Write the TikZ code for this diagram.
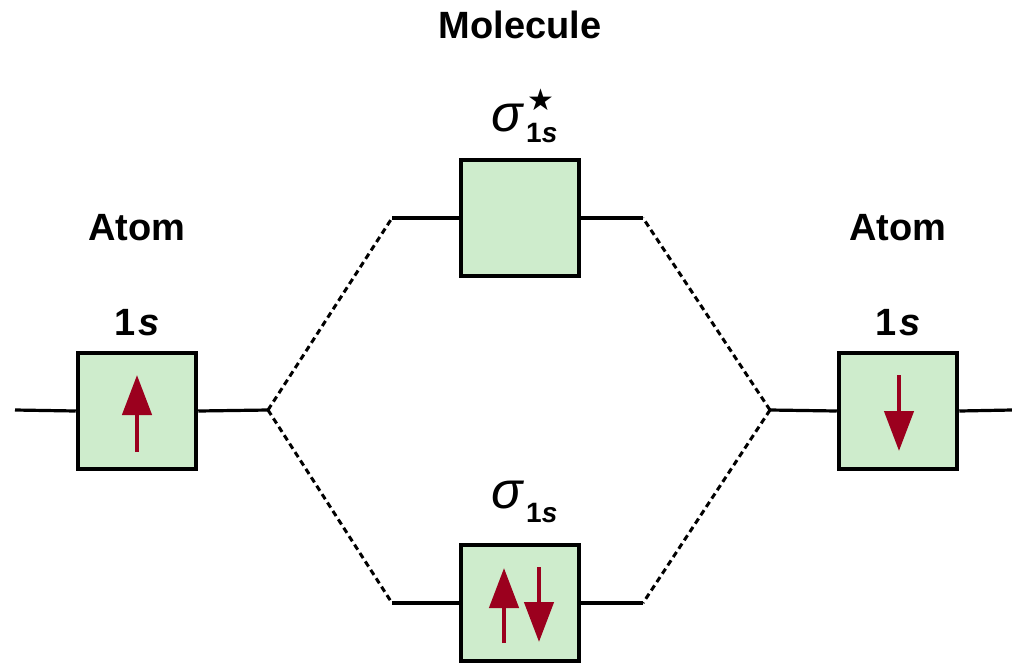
\documentclass[tikz,border=0pt]{standalone}
\usepackage{fontspec}
\setmainfont{Liberation Sans}
\newfontfamily\symfont{DejaVu Sans}
\usetikzlibrary{arrows.meta}
\definecolor{boxfill}{RGB}{206,236,204}
\definecolor{spin}{RGB}{155,0,30}
\tikzset{
  orb/.style={draw=black, line width=4.5pt, fill=boxfill, minimum width=118pt, minimum height=116pt, inner sep=0pt},
  level/.style={line width=3.2pt},
  corr/.style={line width=3pt, dash pattern=on 6pt off 4pt},
  lbl/.style={font=\fontsize{38}{40}\selectfont\bfseries, inner sep=0pt, anchor=base},
  sig/.style={font=\fontsize{52}{52}\selectfont\itshape, inner sep=0pt},
  sub/.style={font=\fontsize{28}{30}\selectfont\bfseries, inner sep=0pt},
  spinarrow/.style={draw=spin, line width=4.5pt, -{Triangle[length=40pt,width=29pt]}}
}
\begin{document}
\begin{tikzpicture}[x=1pt,y=-1pt]
\useasboundingbox (0,0) rectangle (1012,665);
% orbitals
\node[orb] (A) at (137,411) {};
\node[orb] (B) at (898,411) {};
\node[orb] (S) at (520,218) {};
\node[orb] (P) at (520,603) {};
% coordinates
\coordinate (Aout) at (15,410);
\coordinate (Ajoin) at (268,410);
\coordinate (Bjoin) at (770,410);
\coordinate (Bout) at (1012,410);
\coordinate (Sl) at (392,218);
\coordinate (Sr) at (643,218);
\coordinate (Pl) at (392,603);
\coordinate (Pr) at (643,603);
% levels
\draw[level] (Aout) -- (A.west);
\draw[level] (A.east) -- (Ajoin);
\draw[level] (B.west) -- (Bjoin);
\draw[level] (B.east) -- (Bout);
\draw[level] (Sl) -- (S.west);
\draw[level] (S.east) -- (Sr);
\draw[level] (Pl) -- (P.west);
\draw[level] (P.east) -- (Pr);
% correlation lines
\draw[corr] (Ajoin) -- (Sl);
\draw[corr] (Ajoin) -- (Pl);
\draw[corr] (Bjoin) -- (Sr);
\draw[corr] (Bjoin) -- (Pr);
% spins
\coordinate (a1) at (137,452); \coordinate (a2) at (137,375);
\draw[spinarrow] (a1) -- (a2);
\coordinate (b1) at (899,375); \coordinate (b2) at (899,451);
\draw[spinarrow] (b1) -- (b2);
\coordinate (p1) at (504,643); \coordinate (p2) at (504,568);
\draw[spinarrow] (p1) -- (p2);
\coordinate (q1) at (539,567); \coordinate (q2) at (539,642);
\draw[spinarrow] (q1) -- (q2);
% labels
\node[lbl] (mol) at (520,38) {Molecule};
\node[lbl] (atomA) at (137,240) {Atom};
\node[lbl] (atomB) at (898,240) {Atom};
\node[lbl] (sA) at (137,335) {1\kern2pt\textit{s}};
\node[lbl] (sB) at (898,335) {1\kern2pt\textit{s}};
% sigma star
\node[sig, anchor=base east] (sigS) at (523,131) {σ};
\node[sub, anchor=base west] (subS) at (526,142) {1\textit{s}};
\node[font=\symfont\fontsize{30}{30}\selectfont, inner sep=0pt] (star) at (541,100) {★};
% sigma
\node[sig, anchor=base east] (sigP) at (523,508) {σ};
\node[sub, anchor=base west] (subP) at (526,522) {1\textit{s}};
\end{tikzpicture}
\end{document}
